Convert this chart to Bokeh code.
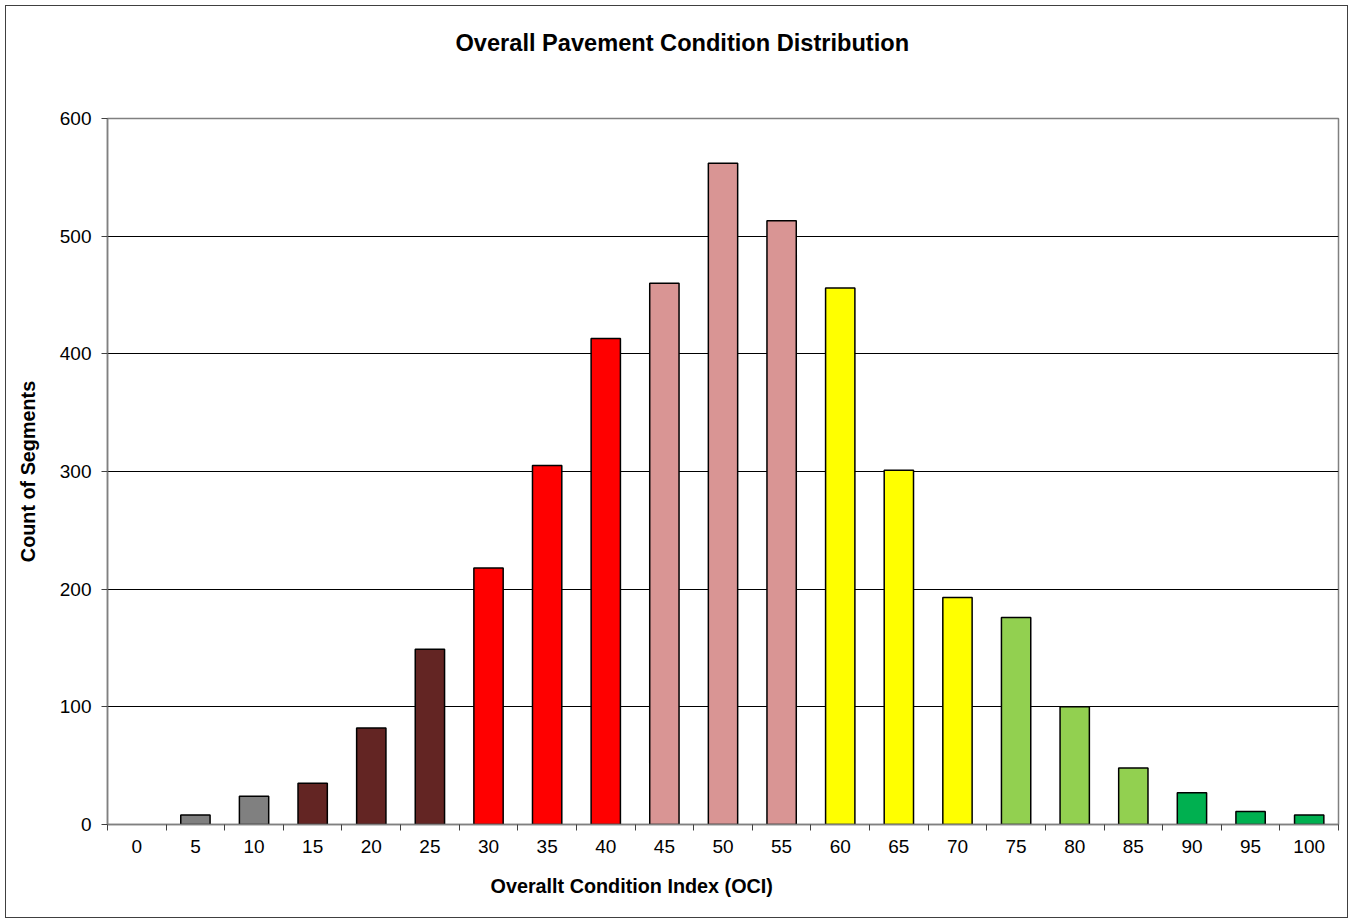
from bokeh.plotting import figure
from bokeh.models import FixedTicker, Range1d, Title
from bokeh.embed import file_html
from bokeh.resources import INLINE

categories = ["0", "5", "10", "15", "20", "25", "30", "35", "40", "45", "50",
              "55", "60", "65", "70", "75", "80", "85", "90", "95", "100"]
counts = [0, 8, 24, 35, 82, 149, 218, 305, 413, 460, 562,
          513, 456, 301, 193, 176, 100, 48, 27, 11, 8]
colors = ["#808080", "#808080", "#808080", "#632523", "#632523", "#632523",
          "#FF0000", "#FF0000", "#FF0000", "#D99594", "#D99594",
          "#D99594", "#FFFF00", "#FFFF00", "#FFFF00", "#92D050", "#92D050",
          "#92D050", "#00B050", "#00B050", "#00B050"]
y_ticks = [0, 100, 200, 300, 400, 500, 600]

FONT = "Liberation Sans"
xs = list(range(len(categories)))
outline = ["black" if c > 0 else None for c in counts]

p = figure(width=1343, height=913, output_backend="svg", toolbar_location=None,
           x_range=Range1d(-0.5, len(categories) - 0.5), y_range=Range1d(0, 600),
           min_border_left=101, min_border_right=11, min_border_top=112, min_border_bottom=95)
p.styles = {"border": "1.5px solid #404040", "box-sizing": "border-box",
            "margin-left": "5px", "margin-top": "5px"}

p.vbar(x=xs, top=counts, width=0.5, fill_color=colors, line_color=outline, line_width=1.5)

# axes
p.xaxis.ticker = FixedTicker(ticks=xs, minor_ticks=[i - 0.5 for i in range(len(categories) + 1)])
p.xaxis.major_label_overrides = {i: c for i, c in enumerate(categories)}
p.xaxis.major_tick_line_color = None
p.xaxis.minor_tick_line_color = "#404040"
p.xaxis.minor_tick_out = 6
p.xaxis.minor_tick_in = 0
p.xaxis.axis_line_color = "#808080"
p.xaxis.axis_line_width = 1.5
p.xaxis.major_label_text_font = FONT
p.xaxis.major_label_text_font_size = "19px"
p.xaxis.major_label_text_color = "black"
p.xaxis.major_label_standoff = 9

p.yaxis.ticker = FixedTicker(ticks=y_ticks)
p.yaxis.minor_tick_line_color = None
p.yaxis.major_tick_out = 6
p.yaxis.major_tick_in = 0
p.yaxis.major_tick_line_color = "#404040"
p.yaxis.axis_line_color = "#808080"
p.yaxis.axis_line_width = 1.5
p.yaxis.major_label_text_font = FONT
p.yaxis.major_label_text_font_size = "19px"
p.yaxis.major_label_text_color = "black"
p.yaxis.major_label_standoff = 10
p.yaxis.axis_label = "Count of Segments"
p.yaxis.axis_label_text_font = FONT
p.yaxis.axis_label_text_font_size = "19.8px"
p.yaxis.axis_label_text_font_style = "bold"
p.yaxis.axis_label_text_color = "black"
p.yaxis.axis_label_standoff = 18

p.xgrid.grid_line_color = None
p.ygrid.grid_line_color = "black"
p.ygrid.grid_line_width = 1

p.outline_line_color = "#808080"
p.outline_line_width = 1.5

p.add_layout(Title(text="Overallt Condition Index (OCI)", align="left", offset=383,
                   standoff=35, text_font=FONT, text_font_size="19.8px",
                   text_font_style="bold", text_color="black"), "below")
# spacer between the frame and the main title
p.add_layout(Title(text=" ", align="left", standoff=40, text_font=FONT,
                   text_font_size="1px", text_color="white"), "above")
p.add_layout(Title(text="Overall Pavement Condition Distribution", align="left", offset=348,
                   standoff=40, text_font=FONT, text_font_size="23.6px",
                   text_font_style="bold", text_color="black"), "above")

open("out.html", "w").write(file_html(p, INLINE))
